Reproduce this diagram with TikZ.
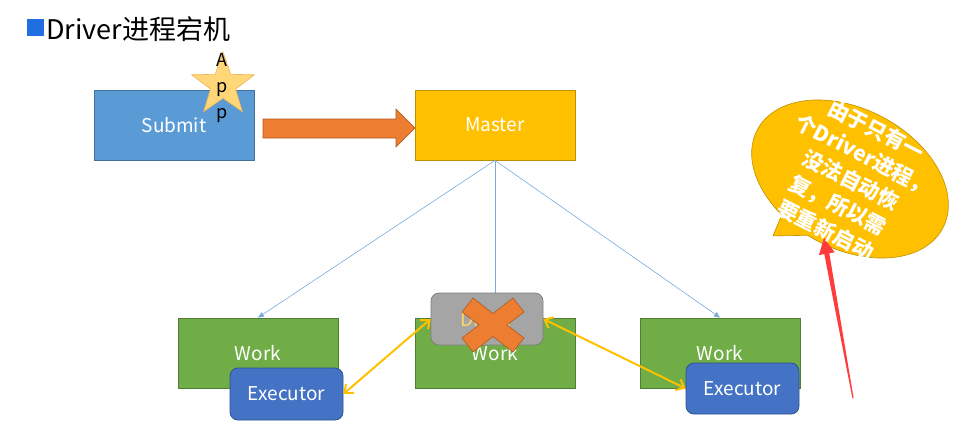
\documentclass[tikz,border=0pt]{standalone}
\usepackage{fontspec}
\setmainfont{Noto Sans CJK SC}
\usetikzlibrary{shapes.geometric,arrows.meta}
\definecolor{titleblue}{RGB}{31,111,227}
\definecolor{subfill}{HTML}{5B9BD5}
\definecolor{subdraw}{HTML}{41719C}
\definecolor{mfill}{HTML}{FFC000}
\definecolor{mdraw}{HTML}{BF9000}
\definecolor{gfill}{HTML}{70AD47}
\definecolor{gdraw}{HTML}{507E32}
\definecolor{efill}{HTML}{4472C4}
\definecolor{edraw}{HTML}{2F528F}
\definecolor{grfill}{HTML}{A5A5A5}
\definecolor{grdraw}{HTML}{7F7F7F}
\definecolor{ofill}{HTML}{ED7D31}
\definecolor{odraw}{HTML}{AE5A21}
\definecolor{starfill}{RGB}{255,214,120}
\definecolor{stardraw}{RGB}{240,180,80}
\definecolor{linkblue}{RGB}{120,170,220}
\definecolor{redarrow}{RGB}{255,60,60}
\definecolor{drvtext}{HTML}{FFD966}
\tikzset{
  box/.style={draw, line width=0.8pt, minimum width=160pt, minimum height=70pt, inner sep=0pt, text=white, font=\fontsize{19}{22}\selectfont},
  execbox/.style={draw=edraw, fill=efill, line width=0.8pt, rounded corners=8pt, minimum width=113pt, minimum height=52pt, inner sep=0pt, text=white, font=\fontsize{19}{22}\selectfont},
  link/.style={draw=linkblue, line width=0.6pt, -{Triangle[length=6pt,width=5pt]}},
  yarrow/.style={draw=mfill, line width=2pt, {Straight Barb[length=7pt,width=12pt]}-{Straight Barb[length=7pt,width=12pt]}},
}
\begin{document}
\begin{tikzpicture}[x=1pt,y=-1pt]
\useasboundingbox (0,0) rectangle (974,447);

% title
\fill[titleblue] (27,19) rectangle (44,36);
\node[anchor=west, inner sep=0pt, font=\fontsize{27}{30}\selectfont] (title) at (46,29) {Driver进程宕机};

% boxes
\node[box, fill=subfill, draw=subdraw] (submit) at (174,125) {Submit};
\node[box, fill=mfill, draw=mdraw] (master) at (495,125) {Master};
\node[box, fill=gfill, draw=gdraw] (w1) at (258,353) {Work};
\node[box, fill=gfill, draw=gdraw] (w2) at (495,353) {Work};
\node[box, fill=gfill, draw=gdraw] (w3) at (720,353) {Work};

% links master -> works
\draw[link] (master.south) -- (w1.north);
\draw[link] (master.south) -- (w2.north);
\draw[link] (master.south) -- (w3.north);

% star App
\node[star, star points=5, star point ratio=2.5, minimum size=66pt, inner sep=0pt, fill=starfill, draw=stardraw, line width=0.6pt] (star) at (223,85) {};
\node[align=center, inner sep=0pt, font=\fontsize{18}{26}\selectfont] (app) at (222,88) {A\\p\\p};

% orange block arrow
\filldraw[fill=ofill, draw=odraw, line width=0.6pt]
  (263,119) -- (396,119) -- (396,109) -- (415,128) -- (396,147) -- (396,138) -- (263,138) -- cycle;

% executors
\node[execbox] (e1) at (286.5,394) {Executor};
\node[execbox, minimum height=51pt] (e2) at (742.5,388.5) {Executor};

% failed driver
\node[draw=grdraw, fill=grfill, line width=0.8pt, rounded corners=8pt, minimum width=112pt, minimum height=52pt, inner sep=0pt, text=drvtext, font=\fontsize{19}{22}\selectfont] (drv) at (487,319) {Driver};
\begin{scope}[shift={(493,325)}]
\filldraw[fill=ofill, draw=odraw, line width=0.6pt]
  (-20,-27) -- (0,-11.5) -- (20,-27) -- (31,-13) -- (14,0) -- (31,13) -- (20,27) -- (0,11.5) -- (-20,27) -- (-31,13) -- (-14,0) -- (-31,-13) -- cycle;
\end{scope}

% yellow double arrows
\draw[yarrow] (e1.east) -- (drv.west);
\draw[yarrow] (drv.east) -- (e2.west);

% callout
\begin{scope}[shift={(850,179)}, rotate=-28]
\filldraw[fill=mfill, draw=mdraw, line width=0.6pt]
  (245.6:105pt and 70pt) -- (-41.3pt,-86.4pt) -- (264:105pt and 70pt)
  arc[start angle=264, end angle=605.6, x radius=105pt, y radius=70pt] -- cycle;
\end{scope}

% red arrow
\coordinate (redtip) at (824,238);
\coordinate (redtail) at (853,398);
\fill[redarrow] (redtip) -- (834.7,252.3) -- (829.3,253.3) -- (853.6,398) -- (852.4,398.2) -- (824.3,254.1) -- (818.9,255.1) -- cycle;

\node[rotate=-27, align=center, inner sep=0pt, text=white, font=\bfseries\fontsize{21}{28}\selectfont] (note) at (851,180)
  {由于只有一\\个Driver进程，\\没法自动恢\\复，所以需\\要重新启动};
\end{tikzpicture}
\end{document}
